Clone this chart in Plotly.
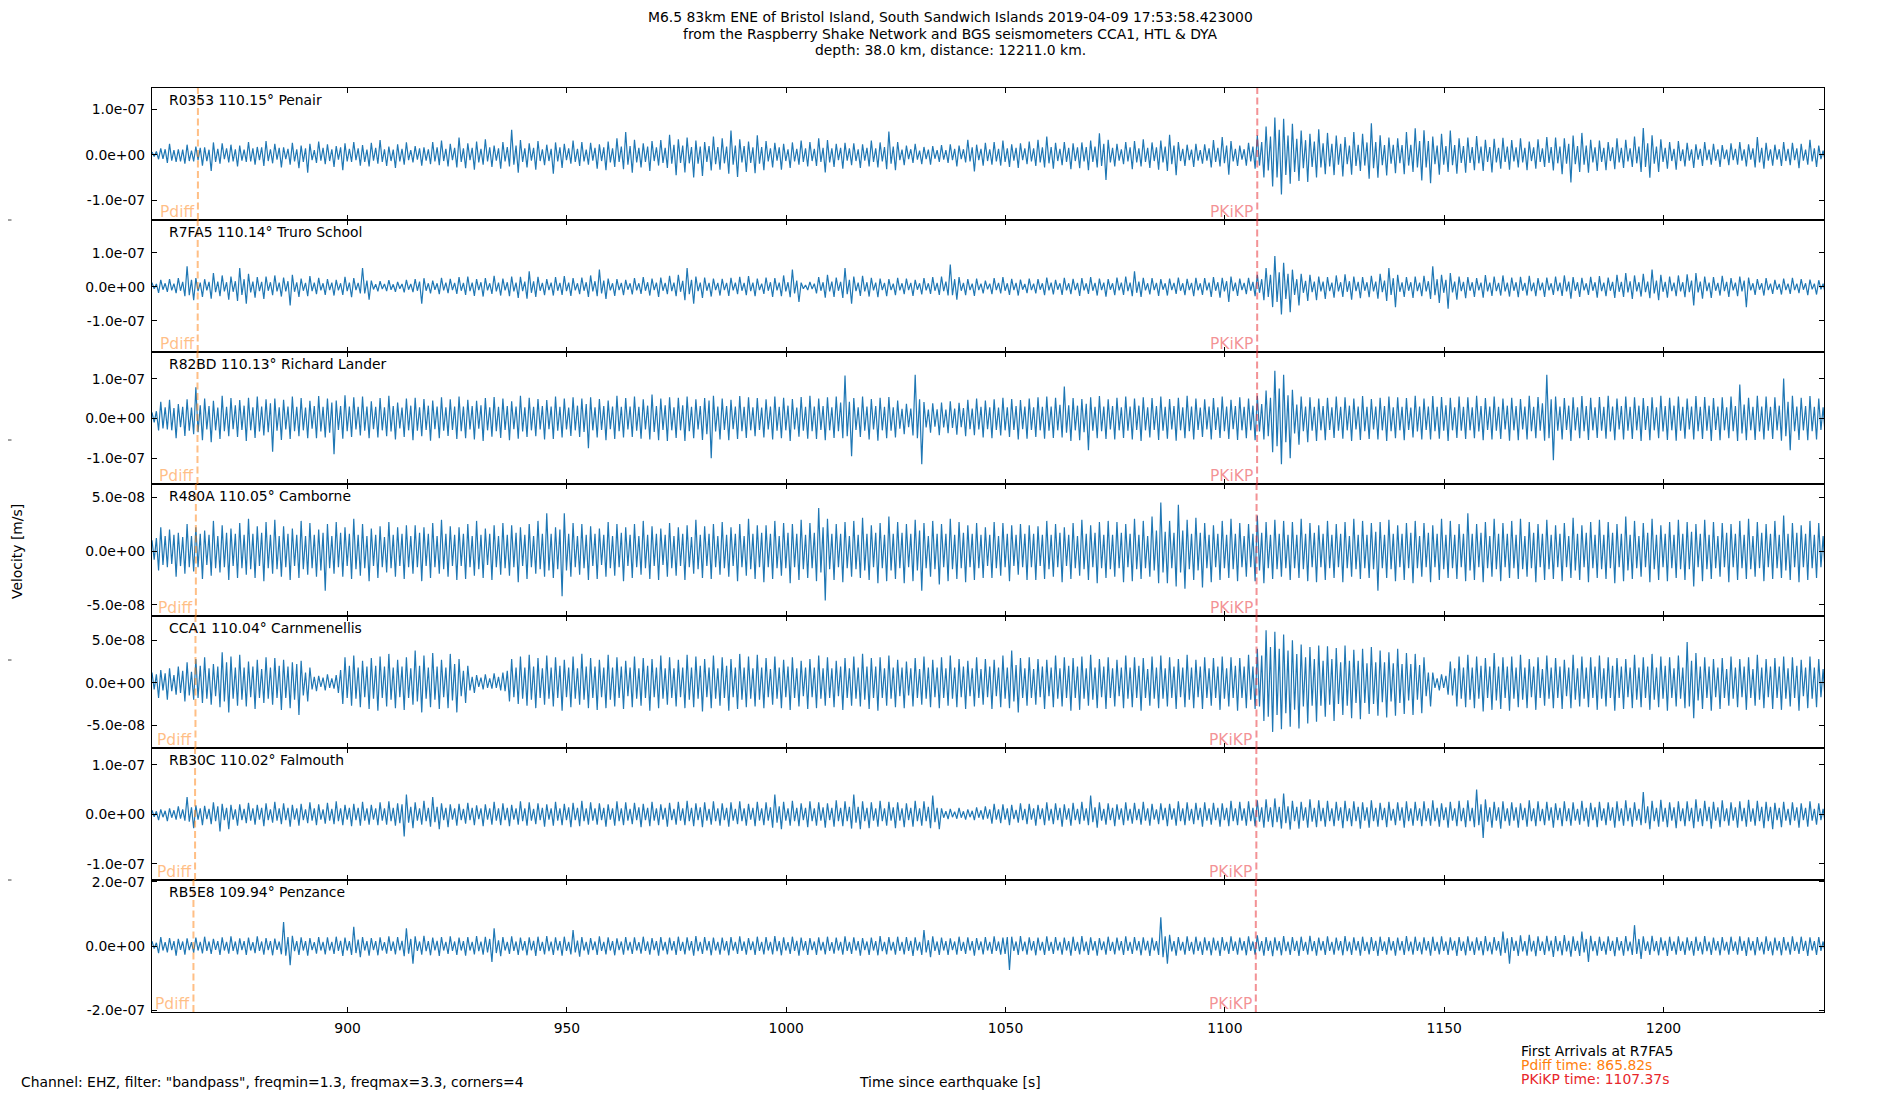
import numpy as np
import plotly.graph_objects as go
from plotly.subplots import make_subplots

# stations, top panel to bottom panel
stations = ["R0353", "R7FA5", "R82BD", "R480A", "CCA1", "RB30C", "RB5E8"]
distances = [110.15, 110.14, 110.13, 110.05, 110.04, 110.02, 109.94]
places = ["Penair", "Truro School", "Richard Lander", "Camborne",
          "Carnmenellis", "Falmouth", "Penzance"]
pdiff_times = [865.87, 865.82, 865.77, 865.40, 865.31, 865.22, 864.85]
pkikp_times = [1107.39, 1107.37, 1107.35, 1107.23, 1107.21, 1107.18, 1107.06]

# y limits and tick step of each panel [m/s]
y_limits = [(-1.44e-7, 1.47e-7), (-1.92e-7, 1.96e-7), (-1.65e-7, 1.67e-7),
            (-6.04e-8, 6.23e-8), (-7.7e-8, 7.87e-8), (-1.33e-7, 1.34e-7),
            (-2.06e-7, 2.06e-7)]
y_steps = [1e-7, 1e-7, 1e-7, 5e-8, 5e-8, 1e-7, 2e-7]
x_ticks = [900, 950, 1000, 1050, 1100, 1150, 1200]

t_start = 855.4   # first sample [s after origin]
dt = 0.5          # sample interval [s]

# vertical velocity, nm/s (one line = 10 s)
r0353_vel = [
    6, -4, 7, -10, 14, -9, 12, -18, 24, -13, 10, -16, 12, -15, 11, -20, 22, -14, 9, -15,
    18, -12, 15, -24, 16, -14, 11, -36, 27, -16, 13, -20, 25, -10, 14, -17, 22, -15, 12, -26,
    20, -13, 11, -16, 28, -15, 14, -22, 17, -12, 16, -25, 30, -14, 12, -19, 24, -11, 15, -28,
    16, -10, 13, -22, 26, -15, 12, -30, 20, -16, 14, -40, 24, -12, 10, -18, 29, -13, 15, -21,
    23, -14, 12, -27, 19, -11, 16, -34, 25, -15, 13, -16, 28, -12, 14, -24, 21, -16, 11, -26,
    26, -13, 15, -20, 32, -16, 12, -25, 18, -14, 11, -29, 23, -15, 13, -22, 27, -12, 10, -17,
    19, -11, 14, -24, 16, -13, 12, -21, 28, -15, 16, -23, 31, -14, 13, -26, 24, -12, 15, -28,
    38, -16, 14, -30, 25, -12, 15, -33, 29, -17, 13, -22, 34, -15, 16, -27, 20, -13, 14, -31,
    28, -15, 17, -26, 55, -22, 20, -40, 32, -16, 14, -28, 25, -13, 15, -33, 30, -14, 12, -23,
    22, -14, 13, -42, 27, -15, 16, -29, 24, -12, 14, -20, 31, -16, 13, -25, 28, -15, 11, -22,
    26, -13, 15, -31, 23, -14, 16, -34, 29, -17, 14, -27, 36, -16, 18, -32, 50, -22, 19, -40,
    33, -17, 15, -28, 25, -16, 18, -36, 30, -14, 16, -24, 32, -18, 15, -29, 44, -20, 22, -45,
    34, -18, 20, -39, 38, -19, 17, -50, 31, -20, 18, -47, 28, -16, 19, -35, 40, -21, 17, -33,
    36, -19, 18, -42, 53, -22, 20, -49, 34, -17, 19, -38, 29, -18, 16, -41, 43, -20, 17, -34,
    30, -15, 14, -28, 26, -13, 16, -33, 24, -14, 12, -29, 27, -15, 13, -22, 31, -16, 14, -26,
    28, -14, 13, -25, 36, -16, 15, -39, 32, -17, 14, -27, 24, -12, 15, -31, 26, -13, 14, -23,
    25, -14, 12, -29, 23, -13, 15, -26, 31, -16, 14, -28, 27, -15, 17, -32, 51, -20, 18, -34,
    28, -12, 11, -23, 20, -10, 12, -18, 24, -11, 9, -21, 17, -10, 11, -22, 19, -9, 10, -16,
    21, -11, 10, -18, 23, -12, 13, -26, 20, -10, 12, -17, 33, -15, 16, -37, 22, -12, 13, -24,
    26, -14, 12, -22, 28, -15, 13, -24, 31, -16, 14, -27, 23, -13, 15, -29, 25, -12, 14, -21,
    29, -15, 14, -25, 33, -17, 16, -28, 40, -19, 17, -31, 26, -14, 13, -23, 28, -16, 15, -32,
    25, -14, 16, -30, 27, -15, 17, -34, 31, -16, 18, -28, 47, -25, 24, -56, 33, -17, 15, -26,
    24, -13, 12, -21, 28, -15, 16, -32, 30, -17, 14, -26, 34, -16, 15, -29, 27, -14, 16, -33,
    31, -17, 18, -36, 44, -21, 20, -45, 28, -14, 13, -25, 22, -12, 11, -27, 24, -13, 10, -20,
    23, -13, 14, -28, 32, -16, 15, -26, 39, -19, 20, -44, 30, -15, 13, -25, 20, -11, 12, -24,
    26, -15, 18, -31, 43, -24, 28, -50, 62, -35, 40, -70, 82, -50, 55, -88, 79, -45, 42, -64,
    68, -38, 35, -58, 53, -30, 32, -60, 46, -27, 29, -50, 56, -28, 25, -43, 48, -26, 24, -45,
    42, -22, 24, -48, 39, -21, 20, -44, 50, -25, 22, -36, 46, -24, 27, -53, 69, -30, 28, -51,
    43, -23, 21, -46, 38, -20, 22, -41, 36, -19, 21, -43, 50, -24, 22, -38, 58, -28, 30, -57,
    54, -28, 30, -63, 40, -21, 20, -44, 46, -22, 19, -38, 53, -23, 21, -42, 36, -18, 19, -40,
    38, -18, 17, -34, 41, -19, 18, -36, 33, -16, 17, -39, 35, -17, 15, -31, 37, -16, 18, -33,
    32, -15, 16, -28, 36, -17, 15, -34, 29, -14, 16, -31, 34, -16, 14, -27, 39, -18, 17, -35,
    38, -19, 18, -43, 36, -20, 24, -61, 42, -21, 19, -38, 48, -22, 20, -40, 33, -17, 16, -36,
    31, -16, 15, -34, 28, -14, 16, -32, 36, -17, 15, -29, 33, -15, 14, -27, 40, -19, 18, -38,
    59, -27, 25, -51, 43, -20, 18, -38, 34, -16, 15, -31, 28, -14, 13, -33, 30, -14, 12, -26,
    26, -13, 12, -29, 23, -11, 13, -25, 28, -12, 11, -22, 24, -13, 12, -27, 21, -10, 11, -23,
    25, -12, 13, -22, 28, -13, 12, -26, 23, -11, 14, -28, 39, -17, 15, -31, 26, -13, 12, -24,
    22, -11, 12, -25, 28, -14, 13, -23, 26, -12, 14, -30, 24, -13, 11, -22, 33, -15, 14, -27,
    20, -10, 9, -16,
]
r7fa5_vel = [
    12, -6, 8, -18, 20, -9, 10, -15, 22, -11, 9, -19, 25, -12, 14, -28, 60, -25, 20, -40,
    25, -13, 12, -30, 22, -11, 14, -35, 40, -16, 15, -28, 33, -14, 13, -38, 30, -15, 16, -42,
    55, -24, 22, -50, 38, -17, 15, -32, 28, -13, 14, -36, 30, -12, 13, -25, 33, -14, 12, -29,
    27, -14, 16, -55, 35, -15, 13, -30, 24, -12, 11, -28, 31, -13, 12, -22, 26, -11, 10, -24,
    22, -10, 12, -26, 20, -11, 10, -24, 29, -13, 12, -31, 25, -10, 11, -20, 55, -20, 18, -38,
    18, -8, 7, -14, 16, -7, 8, -13, 19, -9, 7, -15, 14, -6, 8, -17, 20, -9, 8, -16,
    22, -12, 15, -50, 25, -12, 10, -20, 18, -9, 10, -22, 26, -11, 12, -19, 23, -10, 11, -21,
    28, -12, 11, -24, 30, -13, 12, -27, 22, -10, 13, -29, 25, -11, 10, -21, 32, -14, 12, -26,
    24, -11, 13, -28, 30, -14, 12, -33, 29, -13, 15, -35, 45, -18, 16, -30, 29, -12, 11, -25,
    22, -10, 12, -26, 28, -12, 11, -24, 31, -13, 12, -27, 25, -11, 10, -22, 27, -12, 13, -30,
    33, -14, 16, -28, 50, -20, 18, -36, 24, -11, 10, -27, 22, -10, 11, -25, 20, -9, 10, -23,
    25, -11, 10, -21, 28, -12, 13, -26, 24, -10, 12, -30, 27, -12, 11, -22, 32, -13, 12, -28,
    35, -15, 17, -40, 55, -22, 20, -50, 30, -13, 12, -33, 27, -12, 11, -29, 24, -10, 11, -26,
    23, -10, 11, -27, 26, -11, 12, -22, 29, -12, 11, -25, 31, -13, 12, -28, 24, -10, 9, -21,
    27, -12, 13, -30, 25, -11, 12, -28, 33, -14, 13, -31, 50, -20, 18, -45, 12, -6, 5, -10,
    14, -7, 9, -20, 28, -12, 13, -32, 35, -14, 15, -30, 27, -12, 14, -33, 55, -22, 20, -50,
    30, -13, 12, -27, 32, -14, 13, -29, 26, -11, 12, -31, 24, -10, 11, -28, 22, -10, 9, -25,
    26, -11, 10, -22, 24, -10, 11, -27, 20, -9, 10, -23, 25, -11, 10, -21, 28, -12, 11, -24,
    30, -13, 15, -26, 65, -25, 22, -38, 28, -12, 11, -25, 22, -10, 9, -27, 24, -10, 9, -20,
    18, -8, 9, -22, 25, -10, 11, -20, 28, -12, 10, -24, 23, -10, 11, -26, 21, -9, 8, -19,
    24, -10, 9, -20, 22, -9, 10, -25, 27, -11, 12, -23, 20, -9, 10, -24, 26, -11, 10, -22,
    23, -10, 11, -27, 25, -11, 10, -21, 28, -12, 11, -26, 24, -10, 12, -29, 22, -9, 10, -25,
    27, -11, 12, -24, 30, -13, 12, -28, 45, -18, 15, -30, 26, -11, 10, -23, 25, -10, 11, -27,
    22, -9, 10, -26, 24, -10, 11, -21, 27, -12, 10, -25, 23, -10, 11, -28, 26, -11, 10, -24,
    25, -11, 12, -30, 28, -12, 13, -32, 26, -14, 16, -45, 30, -13, 12, -27, 24, -10, 11, -22,
    26, -12, 14, -28, 35, -18, 22, -40, 55, -30, 35, -60, 90, -45, 42, -82, 70, -36, 38, -75,
    50, -24, 22, -55, 38, -18, 17, -42, 35, -16, 15, -40, 30, -14, 15, -36, 28, -13, 12, -32,
    33, -14, 13, -30, 36, -15, 16, -38, 30, -13, 14, -34, 28, -12, 13, -31, 32, -14, 15, -35,
    38, -16, 18, -42, 55, -24, 25, -60, 35, -15, 13, -30, 28, -12, 13, -33, 30, -13, 12, -28,
    32, -14, 16, -36, 60, -25, 22, -48, 35, -18, 20, -65, 40, -17, 15, -38, 30, -13, 14, -34,
    28, -12, 13, -30, 25, -11, 12, -32, 34, -14, 12, -27, 30, -13, 11, -26, 33, -14, 12, -29,
    27, -12, 13, -31, 29, -12, 11, -26, 32, -13, 12, -28, 25, -11, 12, -30, 27, -11, 10, -24,
    30, -13, 12, -27, 33, -14, 15, -35, 28, -12, 13, -30, 26, -11, 10, -24, 29, -12, 13, -32,
    31, -13, 12, -28, 27, -12, 14, -33, 35, -15, 14, -30, 40, -17, 16, -36, 33, -14, 13, -29,
    38, -16, 15, -34, 50, -20, 18, -40, 35, -15, 14, -32, 30, -13, 12, -28, 33, -14, 13, -31,
    36, -16, 18, -55, 40, -17, 15, -35, 30, -13, 12, -33, 28, -12, 11, -26, 32, -13, 14, -30,
    25, -11, 12, -28, 30, -14, 18, -60, 27, -11, 10, -24, 22, -9, 10, -26, 25, -10, 9, -21,
    20, -9, 8, -23, 24, -10, 9, -21, 26, -10, 9, -19, 22, -9, 10, -25, 21, -8, 9, -23,
    19, -8, 9, -22,
]
r82bd_vel = [
    15, -10, 18, -30, 42, -25, 28, -28, 47, -30, 26, -50, 36, -22, 29, -44, 48, -31, 27, -40,
    78, -35, 33, -55, 50, -28, 31, -60, 44, -30, 27, -52, 57, -32, 29, -45, 51, -27, 33, -47,
    46, -29, 32, -57, 52, -30, 28, -49, 55, -33, 30, -43, 48, -35, 38, -84, 50, -31, 28, -54,
    47, -28, 30, -52, 55, -32, 29, -45, 51, -30, 27, -50, 44, -26, 31, -50, 56, -33, 29, -48,
    50, -36, 40, -90, 45, -29, 31, -51, 58, -32, 30, -47, 53, -28, 29, -43, 55, -31, 30, -50,
    43, -27, 29, -48, 51, -30, 28, -45, 57, -33, 31, -53, 40, -25, 27, -47, 50, -30, 32, -55,
    52, -31, 28, -45, 49, -29, 32, -56, 45, -27, 30, -50, 53, -31, 28, -44, 48, -29, 30, -52,
    55, -32, 30, -50, 47, -28, 31, -53, 44, -26, 33, -57, 51, -30, 28, -46, 54, -32, 29, -49,
    50, -29, 31, -55, 43, -27, 30, -51, 57, -33, 28, -47, 52, -30, 29, -45, 49, -28, 31, -53,
    46, -27, 30, -52, 55, -31, 29, -48, 50, -28, 27, -44, 53, -30, 32, -47, 50, -34, 36, -75,
    53, -30, 28, -48, 49, -29, 31, -55, 45, -27, 30, -52, 57, -32, 29, -48, 51, -28, 30, -47,
    55, -31, 29, -51, 48, -28, 32, -53, 60, -34, 31, -55, 50, -29, 33, -57, 53, -30, 28, -49,
    52, -30, 33, -57, 55, -32, 29, -50, 48, -28, 31, -54, 51, -40, 45, -100, 57, -33, 30, -53,
    50, -29, 31, -55, 47, -27, 30, -52, 56, -32, 29, -49, 53, -30, 28, -45, 51, -29, 27, -48,
    48, -28, 30, -53, 55, -31, 29, -50, 52, -30, 32, -57, 49, -28, 27, -46, 54, -31, 29, -51,
    57, -32, 30, -52, 50, -29, 31, -55, 53, -30, 28, -49, 55, -32, 40, -50, 108, -45, 42, -95,
    51, -29, 28, -47, 55, -31, 30, -53, 49, -28, 31, -56, 52, -30, 29, -50, 54, -31, 28, -48,
    45, -26, 24, -40, 37, -22, 25, -43, 110, -50, 48, -115, 41, -23, 22, -36, 38, -21, 23, -42,
    40, -23, 22, -37, 43, -24, 25, -41, 39, -22, 26, -45, 47, -27, 25, -42, 50, -28, 29, -48,
    45, -27, 28, -50, 48, -29, 27, -43, 52, -30, 28, -47, 49, -29, 31, -53, 46, -27, 30, -51,
    50, -29, 28, -47, 53, -30, 29, -51, 55, -31, 30, -49, 52, -30, 34, -48, 80, -36, 33, -57,
    51, -30, 32, -55, 49, -35, 37, -80, 53, -31, 29, -50, 56, -32, 30, -52, 48, -28, 31, -53,
    52, -30, 28, -49, 55, -31, 30, -53, 50, -29, 32, -57, 53, -30, 28, -48, 51, -29, 31, -54,
    55, -31, 29, -51, 49, -28, 31, -56, 52, -30, 28, -50, 57, -32, 30, -53, 50, -29, 27, -47,
    48, -28, 30, -53, 51, -29, 28, -49, 55, -32, 30, -52, 47, -27, 31, -54, 53, -30, 29, -50,
    50, -30, 32, -55, 57, -33, 36, -53, 70, -45, 52, -85, 120, -70, 75, -115, 110, -60, 58, -100,
    72, -38, 35, -66, 55, -32, 30, -60, 53, -31, 29, -57, 50, -30, 31, -55, 52, -29, 28, -49,
    55, -31, 29, -51, 53, -30, 32, -57, 50, -28, 30, -54, 56, -32, 29, -52, 49, -28, 30, -53,
    52, -30, 31, -57, 55, -32, 28, -50, 53, -30, 29, -55, 51, -29, 27, -48, 57, -33, 30, -53,
    50, -29, 30, -53, 56, -32, 29, -51, 54, -31, 33, -57, 52, -30, 28, -49, 55, -31, 29, -52,
    53, -30, 28, -50, 57, -33, 31, -55, 51, -29, 30, -53, 55, -31, 29, -52, 50, -28, 32, -56,
    52, -30, 31, -55, 49, -28, 30, -53, 57, -32, 29, -50, 54, -31, 38, -56, 110, -50, 48, -105,
    55, -31, 30, -53, 51, -29, 32, -57, 53, -30, 28, -50, 56, -32, 31, -54, 52, -30, 28, -49,
    54, -31, 29, -51, 57, -33, 30, -55, 50, -28, 31, -53, 55, -31, 29, -52, 53, -30, 32, -57,
    51, -29, 31, -55, 53, -30, 28, -50, 57, -33, 31, -54, 52, -30, 32, -56, 55, -31, 29, -51,
    50, -28, 30, -53, 56, -32, 29, -52, 54, -31, 32, -57, 51, -29, 30, -55, 53, -30, 28, -50,
    55, -32, 31, -57, 85, -38, 35, -55, 52, -30, 29, -54, 57, -33, 30, -53, 55, -31, 29, -52,
    53, -30, 32, -56, 100, -45, 42, -80, 57, -32, 30, -54, 52, -30, 31, -55, 56, -32, 29, -53,
    50, -29, 28, -47,
]
r480a_vel = [
    10, -8, 12, -18, 22, -13, 14, -15, 20, -12, 15, -24, 17, -14, 13, -21, 25, -15, 14, -19,
    22, -15, 16, -26, 19, -13, 15, -23, 28, -16, 14, -20, 24, -15, 17, -27, 21, -14, 16, -25,
    26, -16, 15, -22, 30, -17, 16, -25, 23, -14, 17, -28, 27, -16, 15, -21, 29, -17, 14, -24,
    23, -15, 16, -27, 21, -14, 15, -25, 28, -17, 14, -22, 26, -16, 15, -24, 20, -18, 17, -37,
    25, -16, 14, -21, 27, -15, 17, -24, 22, -14, 16, -26, 30, -17, 15, -23, 25, -16, 14, -28,
    21, -14, 15, -25, 23, -15, 13, -20, 27, -16, 15, -24, 22, -14, 16, -26, 24, -15, 14, -21,
    24, -15, 17, -28, 22, -14, 16, -25, 26, -15, 14, -21, 29, -17, 16, -24, 23, -14, 15, -27,
    22, -14, 16, -26, 25, -15, 14, -23, 28, -17, 15, -25, 21, -13, 16, -27, 24, -15, 14, -22,
    26, -16, 15, -23, 24, -15, 17, -29, 22, -14, 15, -26, 25, -15, 14, -21, 28, -17, 16, -24,
    35, -18, 16, -25, 22, -17, 20, -42, 35, -18, 16, -24, 26, -15, 14, -22, 25, -16, 15, -27,
    23, -14, 16, -26, 21, -13, 15, -24, 27, -16, 14, -23, 25, -15, 17, -28, 22, -14, 15, -25,
    25, -15, 14, -22, 28, -16, 15, -26, 23, -14, 16, -27, 21, -13, 15, -24, 26, -16, 14, -23,
    22, -14, 16, -27, 24, -15, 13, -21, 29, -17, 15, -25, 23, -14, 16, -26, 25, -15, 14, -22,
    27, -16, 15, -24, 22, -14, 16, -28, 25, -15, 14, -23, 30, -17, 16, -26, 24, -15, 17, -29,
    24, -15, 16, -26, 28, -16, 14, -23, 26, -16, 17, -30, 25, -15, 16, -27, 29, -17, 15, -25,
    26, -16, 17, -28, 40, -20, 22, -46, 30, -17, 16, -27, 25, -15, 16, -29, 27, -16, 14, -24,
    28, -17, 15, -25, 31, -18, 16, -27, 24, -15, 17, -30, 26, -16, 15, -28, 32, -18, 16, -26,
    27, -16, 17, -30, 25, -15, 16, -28, 29, -18, 19, -37, 26, -16, 14, -24, 28, -17, 16, -31,
    25, -15, 16, -28, 30, -17, 15, -26, 27, -16, 17, -29, 24, -15, 16, -27, 26, -16, 15, -25,
    22, -14, 15, -25, 27, -16, 14, -23, 26, -15, 16, -28, 24, -14, 15, -22, 25, -15, 16, -27,
    24, -15, 16, -27, 23, -14, 15, -26, 28, -17, 15, -24, 25, -15, 17, -29, 22, -14, 15, -26,
    26, -16, 14, -23, 29, -17, 16, -27, 24, -15, 17, -30, 27, -16, 15, -25, 28, -17, 15, -24,
    27, -16, 17, -29, 25, -15, 16, -28, 30, -17, 15, -26, 28, -16, 14, -24, 32, -18, 19, -30,
    45, -20, 18, -30, 28, -16, 17, -33, 43, -20, 19, -35, 29, -17, 16, -27, 31, -18, 17, -34,
    26, -16, 15, -29, 24, -15, 16, -27, 28, -16, 15, -25, 30, -17, 16, -28, 26, -15, 14, -24,
    25, -15, 16, -28, 33, -18, 17, -30, 27, -16, 15, -26, 29, -17, 16, -24, 28, -16, 15, -27,
    27, -16, 15, -25, 30, -17, 16, -28, 26, -15, 17, -29, 24, -15, 16, -27, 28, -16, 15, -25,
    25, -15, 16, -29, 27, -16, 14, -24, 30, -17, 15, -26, 28, -16, 15, -25, 26, -17, 18, -37,
    27, -16, 15, -25, 29, -17, 16, -28, 24, -15, 16, -27, 26, -16, 17, -30, 28, -16, 14, -24,
    26, -15, 17, -29, 24, -15, 16, -27, 30, -17, 15, -25, 28, -16, 15, -26, 25, -15, 16, -28,
    35, -18, 16, -27, 25, -15, 17, -29, 27, -16, 14, -24, 30, -17, 16, -28, 26, -15, 16, -25,
    28, -16, 15, -26, 30, -17, 14, -24, 27, -16, 17, -29, 25, -15, 16, -27, 29, -17, 15, -26,
    24, -15, 16, -28, 26, -15, 14, -25, 31, -18, 16, -27, 24, -15, 17, -29, 27, -16, 15, -25,
    29, -17, 15, -26, 27, -16, 17, -30, 25, -15, 16, -28, 32, -18, 15, -26, 28, -16, 14, -24,
    26, -15, 17, -29, 30, -17, 15, -27, 24, -15, 16, -28, 27, -16, 15, -25, 29, -17, 16, -27,
    27, -17, 18, -33, 25, -15, 16, -28, 29, -17, 15, -26, 27, -16, 14, -24, 26, -15, 17, -29,
    25, -15, 16, -27, 28, -16, 15, -26, 30, -17, 14, -24, 27, -16, 17, -28, 25, -15, 16, -26,
    28, -16, 15, -25, 33, -18, 16, -27, 26, -15, 17, -29, 24, -15, 16, -27, 28, -16, 15, -25,
    26, -15, 14, -23,
]
cca1_vel = [
    12, -8, 10, -18, 15, -9, 11, -20, 17, -10, 9, -14, 19, -12, 14, -22, 24, -15, 13, -20,
    28, -18, 20, -24, 30, -19, 17, -26, 22, -16, 19, -29, 36, -22, 24, -35, 31, -19, 18, -27,
    33, -20, 18, -28, 25, -17, 19, -31, 27, -18, 16, -24, 30, -19, 18, -26, 29, -18, 20, -32,
    27, -18, 19, -30, 24, -20, 22, -38, 26, -15, 12, -22, 18, -8, 7, -10, 8, -5, 6, -9,
    10, -6, 5, -7, 9, -12, 15, -25, 30, -18, 20, -27, 32, -19, 18, -29, 26, -17, 19, -31,
    29, -19, 20, -33, 31, -18, 19, -28, 34, -20, 18, -30, 27, -17, 19, -32, 30, -18, 17, -26,
    38, -22, 20, -35, 32, -19, 18, -29, 35, -20, 19, -31, 27, -17, 18, -30, 34, -21, 22, -35,
    28, -16, 14, -24, 20, -9, 7, -12, 9, -5, 6, -8, 10, -6, 5, -7, 11, -6, 7, -9,
    12, -10, 14, -22, 28, -17, 18, -25, 31, -19, 18, -27, 33, -20, 19, -30, 29, -18, 17, -26,
    32, -19, 18, -28, 30, -18, 20, -33, 27, -17, 18, -29, 31, -19, 17, -26, 34, -20, 19, -30,
    29, -18, 19, -32, 27, -17, 18, -30, 33, -20, 18, -28, 30, -18, 19, -31, 26, -16, 18, -29,
    31, -19, 17, -27, 29, -18, 20, -33, 28, -17, 18, -30, 32, -19, 17, -26, 30, -18, 17, -28,
    27, -17, 18, -30, 33, -20, 18, -29, 31, -19, 20, -34, 28, -17, 18, -30, 32, -19, 17, -27,
    30, -18, 20, -33, 28, -17, 18, -31, 34, -20, 18, -29, 31, -19, 17, -28, 33, -20, 18, -30,
    29, -17, 16, -26, 31, -19, 18, -30, 27, -17, 19, -32, 30, -18, 17, -28, 26, -16, 18, -31,
    28, -17, 18, -30, 32, -19, 17, -27, 30, -18, 17, -29, 26, -16, 19, -32, 29, -18, 17, -27,
    31, -19, 18, -28, 34, -20, 19, -31, 29, -18, 19, -33, 30, -18, 17, -27, 32, -19, 18, -29,
    27, -16, 18, -30, 25, -15, 17, -28, 29, -18, 16, -26, 31, -19, 18, -29, 27, -17, 18, -30,
    30, -18, 17, -27, 32, -19, 18, -29, 28, -17, 19, -31, 26, -16, 17, -28, 30, -18, 16, -26,
    28, -17, 19, -31, 27, -16, 18, -29, 32, -19, 18, -30, 38, -22, 21, -35, 29, -18, 17, -27,
    30, -18, 16, -26, 28, -17, 19, -31, 27, -16, 18, -29, 32, -19, 17, -28, 30, -18, 20, -33,
    29, -18, 19, -32, 31, -19, 17, -27, 33, -20, 18, -30, 28, -17, 19, -31, 30, -18, 17, -28,
    27, -16, 18, -30, 32, -19, 18, -29, 30, -18, 20, -33, 29, -18, 16, -27, 31, -19, 18, -30,
    32, -19, 17, -28, 30, -18, 19, -31, 28, -17, 18, -29, 33, -20, 18, -30, 27, -17, 19, -31,
    30, -18, 17, -27, 29, -18, 19, -32, 31, -19, 17, -28, 30, -18, 20, -33, 29, -18, 19, -30,
    33, -20, 19, -31, 40, -28, 32, -45, 62, -40, 42, -58, 60, -38, 40, -55, 57, -36, 38, -52,
    50, -32, 34, -54, 45, -28, 30, -48, 42, -27, 28, -46, 44, -27, 26, -40, 43, -26, 28, -45,
    41, -25, 24, -38, 44, -27, 26, -42, 39, -24, 26, -43, 40, -24, 23, -37, 42, -25, 24, -39,
    38, -23, 24, -41, 36, -22, 23, -39, 40, -24, 22, -37, 35, -21, 22, -38, 34, -20, 21, -36,
    30, -16, 12, -28, 12, -6, 5, -9, 10, -6, 8, -14, 25, -15, 17, -28, 31, -19, 18, -29,
    33, -20, 18, -30, 31, -19, 20, -34, 29, -18, 19, -32, 35, -21, 19, -31, 30, -18, 19, -33,
    31, -19, 18, -29, 33, -20, 18, -30, 28, -17, 19, -32, 30, -18, 16, -27, 32, -19, 18, -30,
    29, -18, 19, -31, 27, -16, 18, -30, 33, -20, 17, -28, 31, -19, 18, -29, 30, -18, 19, -32,
    32, -19, 17, -28, 30, -18, 20, -33, 29, -18, 19, -31, 28, -17, 18, -30, 33, -20, 18, -29,
    30, -18, 19, -32, 34, -20, 18, -29, 31, -19, 20, -33, 30, -18, 17, -28, 32, -19, 18, -30,
    48, -28, 26, -42, 35, -21, 19, -31, 30, -18, 19, -33, 28, -17, 18, -31, 29, -18, 16, -27,
    31, -19, 18, -29, 28, -17, 19, -32, 30, -18, 16, -27, 33, -20, 18, -30, 28, -17, 19, -31,
    29, -18, 19, -32, 31, -19, 17, -28, 30, -18, 20, -33, 27, -16, 18, -30, 31, -19, 18, -29,
    28, -17, 16, -25,
]
rb30c_vel = [
    8, -5, 6, -12, 10, -6, 7, -14, 12, -7, 8, -11, 16, -9, 10, -13, 35, -15, 14, -28,
    18, -11, 12, -22, 17, -10, 11, -20, 24, -14, 16, -35, 21, -12, 13, -30, 19, -11, 10, -23,
    20, -12, 11, -18, 23, -13, 12, -21, 19, -11, 13, -24, 22, -12, 10, -17, 25, -13, 12, -20,
    22, -12, 13, -25, 19, -11, 12, -23, 21, -12, 10, -18, 24, -13, 12, -22, 20, -11, 10, -19,
    23, -13, 11, -20, 26, -14, 12, -22, 19, -11, 13, -24, 21, -12, 13, -23, 25, -13, 12, -21,
    19, -11, 12, -22, 24, -13, 12, -21, 26, -14, 13, -23, 22, -18, 20, -45, 40, -17, 15, -28,
    24, -13, 12, -21, 27, -14, 13, -25, 35, -16, 15, -30, 22, -12, 13, -26, 20, -11, 12, -23,
    21, -12, 11, -19, 23, -12, 13, -22, 18, -10, 12, -24, 20, -11, 12, -21, 25, -13, 12, -22,
    22, -12, 13, -24, 19, -11, 12, -21, 26, -14, 12, -23, 24, -13, 11, -20, 22, -12, 13, -25,
    20, -11, 12, -23, 25, -13, 12, -22, 21, -12, 14, -26, 23, -12, 13, -24, 27, -14, 12, -21,
    24, -13, 12, -21, 22, -12, 13, -25, 20, -11, 12, -23, 26, -14, 12, -22, 24, -13, 11, -20,
    23, -12, 14, -26, 21, -12, 13, -24, 25, -13, 12, -22, 20, -11, 13, -25, 23, -12, 11, -21,
    25, -13, 12, -22, 27, -14, 13, -24, 22, -12, 14, -26, 24, -13, 11, -21, 26, -14, 12, -23,
    22, -12, 13, -25, 24, -13, 11, -20, 26, -14, 12, -23, 21, -11, 13, -24, 25, -13, 12, -22,
    24, -13, 14, -27, 40, -17, 16, -30, 25, -13, 12, -23, 27, -14, 13, -24, 22, -12, 13, -26,
    26, -14, 12, -23, 24, -13, 14, -27, 22, -12, 13, -25, 28, -14, 13, -24, 26, -14, 15, -29,
    40, -17, 15, -30, 26, -14, 13, -28, 24, -13, 12, -25, 27, -14, 12, -23, 25, -13, 14, -28,
    24, -13, 12, -26, 22, -12, 13, -25, 27, -14, 12, -23, 26, -14, 15, -28, 38, -16, 13, -30,
    12, -7, 6, -10, 11, -6, 5, -9, 13, -7, 6, -11, 10, -6, 7, -12, 14, -7, 8, -11,
    16, -9, 10, -19, 21, -11, 10, -18, 20, -11, 12, -22, 19, -10, 9, -17, 22, -12, 11, -20,
    21, -11, 12, -23, 19, -10, 12, -22, 24, -13, 11, -20, 22, -12, 13, -25, 20, -11, 12, -23,
    23, -12, 11, -20, 25, -13, 12, -22, 38, -16, 14, -27, 24, -13, 11, -21, 22, -12, 13, -24,
    20, -11, 12, -22, 24, -13, 11, -19, 23, -12, 11, -21, 25, -13, 12, -23, 21, -11, 10, -20,
    22, -12, 13, -24, 21, -11, 12, -23, 26, -14, 12, -22, 24, -13, 11, -20, 23, -12, 13, -25,
    24, -13, 12, -21, 23, -12, 13, -25, 22, -12, 13, -24, 27, -14, 12, -22, 25, -13, 12, -23,
    26, -14, 13, -24, 28, -15, 14, -27, 30, -15, 14, -26, 32, -16, 15, -29, 42, -18, 16, -31,
    27, -14, 15, -29, 25, -13, 14, -27, 30, -15, 13, -26, 28, -14, 13, -25, 27, -14, 12, -24,
    25, -13, 14, -28, 27, -14, 12, -24, 26, -14, 15, -29, 24, -13, 14, -27, 28, -14, 13, -25,
    23, -12, 13, -26, 25, -13, 11, -22, 24, -13, 14, -27, 26, -14, 12, -23, 25, -13, 12, -24,
    26, -14, 12, -23, 28, -14, 13, -25, 22, -12, 14, -27, 25, -13, 12, -24, 27, -14, 13, -26,
    28, -14, 13, -26, 50, -22, 20, -48, 30, -15, 14, -27, 25, -13, 14, -29, 26, -14, 12, -23,
    24, -13, 14, -27, 22, -12, 13, -25, 28, -14, 12, -24, 26, -14, 11, -22, 25, -13, 14, -27,
    22, -12, 13, -24, 26, -14, 12, -23, 24, -13, 11, -21, 27, -14, 13, -25, 23, -12, 14, -26,
    25, -13, 12, -22, 24, -13, 14, -27, 26, -14, 12, -23, 28, -14, 13, -25, 24, -13, 11, -22,
    45, -18, 16, -30, 27, -14, 13, -25, 29, -15, 13, -26, 24, -13, 14, -28, 26, -14, 12, -24,
    26, -14, 13, -28, 30, -15, 12, -24, 27, -14, 15, -29, 25, -13, 14, -26, 28, -14, 12, -23,
    24, -13, 14, -27, 26, -14, 13, -25, 29, -15, 12, -23, 27, -14, 15, -28, 25, -14, 15, -30,
    23, -12, 13, -26, 25, -13, 11, -22, 24, -13, 14, -27, 22, -12, 13, -25, 26, -13, 11, -21,
    22, -12, 11, -20,
]
rb5e8_vel = [
    15, -8, 10, -22, 28, -14, 12, -20, 25, -13, 15, -30, 22, -12, 14, -27, 24, -13, 12, -21,
    26, -14, 13, -23, 29, -15, 14, -25, 22, -12, 15, -28, 27, -14, 13, -24, 30, -15, 14, -26,
    24, -13, 15, -28, 26, -14, 12, -22, 30, -15, 14, -27, 25, -13, 15, -29, 23, -12, 14, -26,
    75, -30, 28, -60, 32, -16, 15, -28, 27, -14, 15, -30, 25, -13, 12, -24, 28, -14, 13, -26,
    27, -14, 13, -25, 29, -15, 16, -31, 26, -14, 15, -28, 60, -22, 20, -35, 28, -14, 15, -30,
    25, -13, 15, -29, 27, -14, 12, -24, 30, -15, 14, -26, 28, -14, 16, -32, 55, -24, 22, -55,
    30, -15, 14, -27, 32, -16, 15, -29, 26, -14, 16, -31, 28, -14, 13, -25, 30, -15, 14, -28,
    26, -14, 15, -30, 28, -14, 13, -26, 31, -16, 14, -27, 29, -20, 22, -50, 55, -22, 18, -32,
    28, -14, 13, -25, 30, -15, 14, -28, 26, -14, 15, -29, 27, -14, 16, -31, 29, -15, 13, -26,
    31, -16, 14, -28, 27, -14, 15, -30, 29, -15, 13, -26, 50, -20, 17, -33, 28, -14, 13, -27,
    25, -13, 14, -28, 30, -15, 13, -26, 27, -14, 15, -29, 24, -13, 14, -27, 28, -14, 13, -25,
    27, -14, 12, -24, 29, -15, 14, -27, 25, -13, 15, -30, 28, -14, 13, -26, 26, -14, 15, -28,
    29, -15, 13, -26, 27, -14, 15, -30, 31, -16, 13, -25, 28, -14, 15, -29, 26, -14, 13, -27,
    26, -14, 15, -29, 28, -14, 13, -25, 30, -15, 14, -27, 25, -13, 14, -28, 29, -15, 13, -26,
    28, -14, 13, -26, 31, -16, 15, -29, 27, -14, 12, -25, 29, -15, 16, -30, 26, -14, 15, -28,
    25, -13, 14, -28, 27, -14, 13, -26, 29, -15, 12, -24, 26, -14, 13, -27, 30, -15, 13, -25,
    27, -14, 15, -30, 25, -13, 14, -28, 26, -14, 15, -29, 31, -16, 13, -26, 28, -14, 13, -27,
    29, -15, 13, -26, 28, -15, 16, -31, 27, -14, 13, -28, 50, -20, 18, -35, 30, -15, 14, -28,
    26, -14, 15, -28, 24, -13, 14, -27, 29, -15, 13, -25, 27, -14, 15, -30, 25, -13, 14, -26,
    28, -14, 13, -25, 30, -15, 14, -27, 26, -25, 28, -75, 29, -15, 14, -28, 31, -16, 14, -27,
    27, -14, 15, -29, 26, -14, 13, -28, 30, -15, 13, -25, 28, -14, 13, -27, 26, -14, 15, -30,
    29, -15, 13, -26, 31, -16, 14, -28, 27, -14, 15, -30, 25, -13, 14, -27, 29, -15, 13, -26,
    26, -14, 15, -28, 30, -15, 13, -25, 28, -14, 15, -29, 27, -14, 16, -31, 26, -14, 15, -28,
    90, -35, 30, -55, 35, -17, 15, -30, 28, -14, 13, -27, 30, -15, 13, -26, 29, -15, 14, -28,
    27, -14, 15, -29, 26, -14, 16, -31, 28, -14, 13, -25, 30, -15, 14, -27, 26, -14, 15, -29,
    30, -15, 14, -27, 33, -16, 15, -30, 28, -15, 16, -32, 27, -14, 15, -29, 31, -16, 14, -28,
    28, -15, 16, -31, 29, -15, 13, -27, 32, -16, 15, -30, 26, -14, 15, -28, 30, -15, 13, -27,
    26, -14, 15, -29, 31, -16, 14, -28, 27, -14, 15, -30, 29, -15, 13, -26, 28, -15, 16, -31,
    29, -15, 14, -27, 28, -14, 15, -30, 26, -14, 15, -28, 31, -16, 14, -27, 29, -15, 13, -26,
    27, -14, 15, -30, 29, -15, 13, -26, 30, -15, 14, -28, 27, -14, 16, -31, 28, -15, 14, -29,
    30, -15, 14, -28, 27, -14, 15, -29, 31, -16, 13, -26, 28, -14, 15, -30, 45, -22, 24, -55,
    28, -15, 16, -31, 33, -17, 15, -30, 35, -17, 16, -32, 30, -15, 14, -28, 32, -16, 17, -34,
    31, -16, 15, -29, 34, -17, 16, -33, 30, -15, 16, -31, 45, -20, 22, -50, 32, -16, 15, -30,
    29, -15, 14, -27, 30, -15, 16, -32, 28, -14, 15, -30, 31, -16, 14, -28, 65, -25, 22, -40,
    30, -15, 14, -28, 32, -16, 15, -29, 27, -14, 16, -31, 29, -15, 14, -27, 30, -15, 14, -28,
    27, -14, 15, -30, 29, -15, 13, -26, 31, -16, 14, -28, 26, -14, 15, -29, 28, -14, 13, -27,
    29, -15, 14, -27, 30, -15, 16, -31, 27, -14, 15, -29, 28, -14, 13, -26, 30, -15, 14, -29,
    26, -14, 15, -29, 28, -14, 13, -27, 30, -15, 13, -25, 29, -15, 16, -31, 27, -14, 15, -28,
    28, -15, 14, -25,
]
traces = [r0353_vel, r7fa5_vel, r82bd_vel, r480a_vel, cca1_vel, rb30c_vel, rb5e8_vel]

# the page body has an 8 px margin, so the figure is drawn 8 px smaller
OFF = 8
W, H = 1900 - OFF, 1100 - OFF
L, R, T, B = 152 - OFF, 76, 88 - OFF, 88
FONT = "DejaVu Sans"
BLUE = "#1f77b4"
PDIFF_C = "rgba(255,127,14,0.5)"
PKIKP_C = "rgba(232,38,43,0.5)"


def fx(px):
    # screen x of the reference -> paper x
    return (px - OFF - L) / (W - L - R)


def fy(py):
    # screen y of the reference -> paper y
    return (H - B - (py - OFF)) / (H - T - B)


n = len(stations)
fig = make_subplots(rows=n, cols=1, shared_xaxes=True, vertical_spacing=0)

for i, vel in enumerate(traces):
    row = i + 1
    t = t_start + dt * np.arange(len(vel))
    fig.add_trace(go.Scatter(x=t, y=np.array(vel) * 1e-9, mode="lines",
                             line=dict(color=BLUE, width=1.2),
                             hoverinfo="skip"), row=row, col=1)

    s = y_steps[i]
    tv = [-s, 0.0, s]
    fig.update_yaxes(row=row, col=1, range=list(y_limits[i]), tickvals=tv,
                     ticktext=[f"{v:.1e}" for v in tv],
                     ticks="inside", ticklen=5, tickcolor="black",
                     showline=True, linecolor="black", linewidth=1.2,
                     mirror="ticks", showgrid=False, zeroline=False,
                     ticklabelstandoff=3,
                     tickfont=dict(family=FONT, size=13.9, color="black"))

    xs = "" if row == 1 else str(row)
    # arrival markers
    for tt, col in ((pdiff_times[i], PDIFF_C), (pkikp_times[i], PKIKP_C)):
        fig.add_shape(type="line", x0=tt, x1=tt, y0=0, y1=1,
                      xref="x" + xs, yref=f"y{xs} domain",
                      line=dict(color=col, width=2, dash="7px,3.5px"))
    fig.add_annotation(x=pdiff_times[i], y=0, xref="x" + xs, yref=f"y{xs} domain",
                       text="Pdiff", showarrow=False, xanchor="right",
                       yanchor="bottom", xshift=-2, yshift=-3,
                       font=dict(family=FONT, size=15.5, color=PDIFF_C))
    fig.add_annotation(x=pkikp_times[i], y=0, xref="x" + xs, yref=f"y{xs} domain",
                       text="PKiKP", showarrow=False, xanchor="right",
                       yanchor="bottom", xshift=-2, yshift=-3,
                       font=dict(family=FONT, size=15.5, color=PKIKP_C))
    fig.add_annotation(x=0, y=1, xref=f"x{xs} domain", yref=f"y{xs} domain",
                       text=f"{stations[i]} {distances[i]:.2f}° {places[i]}",
                       showarrow=False, xanchor="left", yanchor="top",
                       xshift=15, yshift=-2,
                       font=dict(family=FONT, size=13.9, color="black"))

fig.update_xaxes(range=[855.4, 1236.6], tickvals=x_ticks,
                 ticks="inside", ticklen=5, tickcolor="black",
                 showline=True, linecolor="black", linewidth=1.2,
                 mirror="ticks", showgrid=False, zeroline=False,
                 ticklabelstandoff=3,
                 tickfont=dict(family=FONT, size=13.9, color="black"))

title_lines = [
    "M6.5 83km ENE of Bristol Island, South Sandwich Islands 2019-04-09 17:53:58.423000",
    "from the Raspberry Shake Network and BGS seismometers CCA1, HTL & DYA",
    "depth: 38.0 km, distance: 12211.0 km.",
]
for line, py in zip(title_lines, (17, 33.5, 50)):
    fig.add_annotation(x=fx(950), y=fy(py), xref="paper", yref="paper",
                       text=line, showarrow=False, xanchor="center", yanchor="middle",
                       font=dict(family=FONT, size=13.9, color="black"))

fig.add_annotation(x=fx(17), y=fy(552), xref="paper", yref="paper",
                   text="Velocity [m/s]", textangle=-90, showarrow=False,
                   xanchor="center", yanchor="middle",
                   font=dict(family=FONT, size=13.9, color="black"))
fig.add_annotation(x=fx(19), y=fy(1082), xref="paper", yref="paper",
                   text='Channel: EHZ, filter: "bandpass", freqmin=1.3, freqmax=3.3, corners=4',
                   showarrow=False, xanchor="left", yanchor="middle",
                   font=dict(family=FONT, size=13.9, color="black"))
fig.add_annotation(x=fx(950), y=fy(1082), xref="paper", yref="paper",
                   text="Time since earthquake [s]", showarrow=False,
                   xanchor="center", yanchor="middle",
                   font=dict(family=FONT, size=13.9, color="black"))

ref = stations[1]
arrival_lines = [
    (f"First Arrivals at {ref}", "black", 1051),
    (f"Pdiff time: {pdiff_times[1]:.2f}s", "#ff7f0e", 1065),
    (f"PKiKP time: {pkikp_times[1]:.2f}s", "#e8262b", 1078.5),
]
for txt, col, py in arrival_lines:
    fig.add_annotation(x=fx(1519), y=fy(py), xref="paper", yref="paper",
                       text=txt, showarrow=False, xanchor="left", yanchor="middle",
                       font=dict(family=FONT, size=13.9, color=col))

# stray ticks of the hidden full-figure axis at the left edge
for py in (220, 440, 660, 880):
    fig.add_shape(type="line", xref="paper", yref="paper",
                  x0=fx(OFF), x1=fx(OFF + 3.5), y0=fy(py), y1=fy(py),
                  line=dict(color="#444444", width=1))

fig.update_layout(width=W, height=H, margin=dict(l=L, r=R, t=T, b=B),
                  plot_bgcolor="white", paper_bgcolor="white",
                  showlegend=False, font=dict(family=FONT, size=13.9, color="black"))

fig.write_html("out.html")
